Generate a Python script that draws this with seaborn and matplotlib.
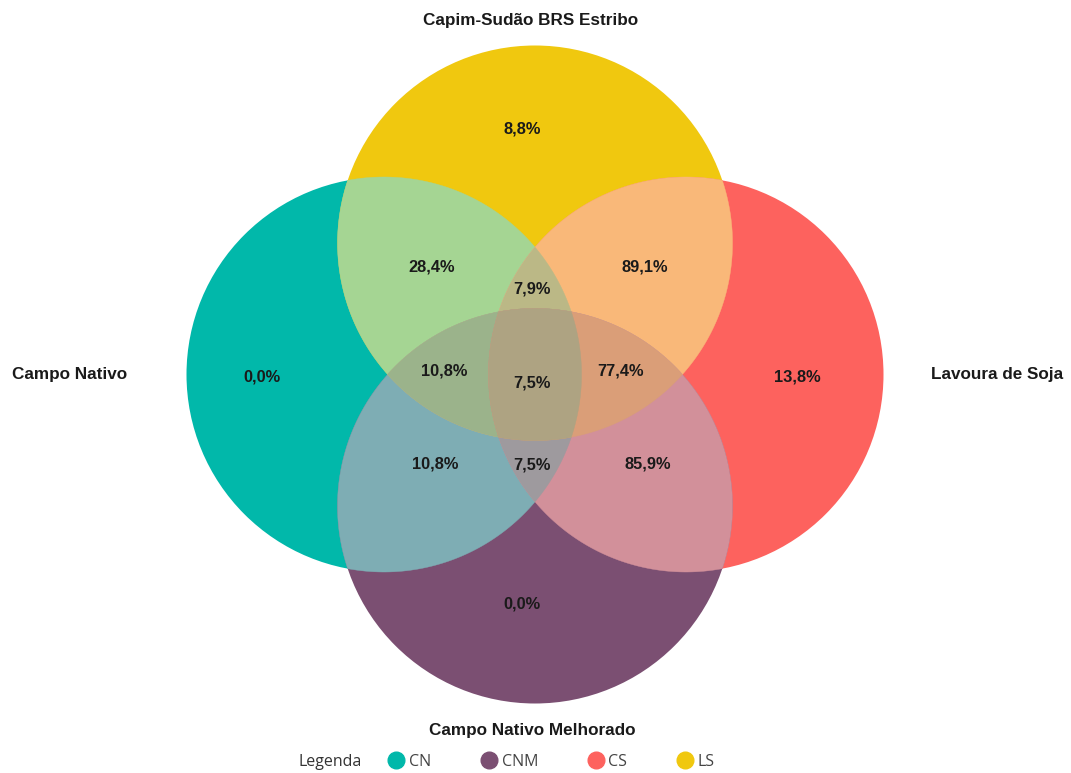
import numpy as np
import matplotlib
matplotlib.use("Agg")
import matplotlib.pyplot as plt
from matplotlib.patches import Polygon, Circle
from matplotlib.lines import Line2D
from matplotlib.colors import to_rgb
from itertools import combinations
import seaborn as sns

# ---------------- data ----------------
set_keys = ["L", "T", "R", "B"]
set_names = ["Campo Nativo", "Capim-Sudão BRS Estribo", "Lavoura de Soja", "Campo Nativo Melhorado"]
set_colors = ["#01B8AA", "#F0C80F", "#FD625E", "#7B4F72"]

region_keys = ["T", "LT", "TR", "LTR", "L", "LTB", "LTRB", "TRB", "R", "LB", "LRB", "RB", "B"]
region_values = [8.8, 28.4, 89.1, 7.9, 0.0, 10.8, 7.5, 77.4, 13.8, 10.8, 7.5, 85.9, 0.0]

legend_codes = ["CN", "CNM", "CS", "LS"]
legend_colors = ["#01B8AA", "#7B4F72", "#FD625E", "#F0C80F"]
legend_title = "Legenda"

# ---------------- layout ----------------
W, H = 1071, 773
CX, CY = 535.0, 374.5
DX, DY, RAD = 151.0, 131.5, 197.5
centers = {"L": (CX - DX, CY), "T": (CX, CY - DY), "R": (CX + DX, CY), "B": (CX, CY + DY)}
name_pos = {"L": (CX - 465, CY), "T": (CX - 4, CY - 354.5), "R": (CX + 462, CY), "B": (CX - 3, CY + 355.5)}
# small nudges of the value labels away from the exact region centroid (pixels)
label_nudge = {"T": (-13, -5), "LT": (11, 5), "TR": (-4, 5), "LTR": (-3, 2), "L": (-20, 2),
               "LTB": (-9, -3), "LTRB": (-3, 9), "TRB": (4, -3), "R": (9, 2), "LB": (14, -23),
               "LRB": (-3, 3), "RB": (-1, -23), "B": (-13, -11)}

sns.set_theme(style="white")
plt.rcParams["font.family"] = ["Liberation Sans", "DejaVu Sans"]

fig = plt.figure(figsize=(W / 100, H / 100), dpi=100)
ax = fig.add_axes([0, 0, 1, 1])
ax.set_xlim(0, W)
ax.set_ylim(H, 0)
ax.axis("off")

color_of = dict(zip(set_keys, set_colors))


def inside_all(px, py, keys):
    ok = np.ones_like(px, dtype=bool)
    for k in keys:
        cx, cy = centers[k]
        ok &= (px - cx) ** 2 + (py - cy) ** 2 <= RAD ** 2 + 1e-6
    return ok


def intersection_polygon(keys):
    pts = []
    th = np.linspace(0, 2 * np.pi, 1440, endpoint=False)
    for k in keys:
        cx, cy = centers[k]
        px = cx + RAD * np.cos(th)
        py = cy + RAD * np.sin(th)
        m = inside_all(px, py, keys)
        pts.append(np.column_stack([px[m], py[m]]))
    pts = np.vstack(pts)
    c = pts.mean(axis=0)
    ang = np.arctan2(pts[:, 1] - c[1], pts[:, 0] - c[0])
    return pts[np.argsort(ang)]


def blend(keys):
    if len(keys) == 1:
        return to_rgb(color_of[keys[0]])
    cols = [np.array(to_rgb(color_of[k])) for k in keys] + [np.ones(3)]
    return tuple(np.mean(cols, axis=0))


# single circles
for k in set_keys:
    ax.add_patch(Circle(centers[k], RAD, facecolor=color_of[k], edgecolor="none", zorder=1))

# overlaps, drawn by increasing size
for size in (2, 3, 4):
    for combo in combinations(set_keys, size):
        poly = intersection_polygon(list(combo))
        if len(poly) < 3:
            continue
        ax.add_patch(Polygon(poly, closed=True, facecolor=blend(list(combo)),
                             edgecolor=blend(list(combo)), lw=0.3, zorder=size))

# region labels at centroid of each exact region
gx, gy = np.meshgrid(np.arange(0, W, 1.0), np.arange(0, H, 1.0))
member = {k: (gx - centers[k][0]) ** 2 + (gy - centers[k][1]) ** 2 <= RAD ** 2 for k in set_keys}
for key, val in zip(region_keys, region_values):
    m = np.ones_like(gx, dtype=bool)
    for k in set_keys:
        m &= member[k] if k in key else ~member[k]
    nx, ny = label_nudge[key]
    x0, y0 = gx[m].mean() + nx, gy[m].mean() + ny
    ax.text(x0, y0, f"{val:.1f}%".replace(".", ","), ha="center", va="center",
            fontsize=11.8, fontweight="bold", color="#1a1a1a", zorder=10)

# set names
for k, name in zip(set_keys, set_names):
    x, y = name_pos[k]
    ax.text(x, y, name, ha="center", va="center", fontsize=12.3, fontweight="bold",
            color="#1a1a1a", zorder=10)

# legend
fig.text(298 / W, 1 - 762 / H, legend_title, ha="left", va="center", fontsize=11.5,
         color="#333333", family=["Open Sans", "DejaVu Sans"])
handles = [Line2D([], [], marker="o", linestyle="none", markersize=12,
                  markerfacecolor=c, markeredgecolor=c) for c in legend_colors]
leg = fig.legend(handles, legend_codes, ncol=4, loc="center left",
                 bbox_to_anchor=(374 / W, 1 - 762 / H), frameon=False,
                 handletextpad=0.3, columnspacing=3.1, handlelength=1.0,
                 prop={"family": ["Open Sans", "DejaVu Sans"], "size": 11.5})
for t in leg.get_texts():
    t.set_color("#444444")

fig.savefig("out.png", dpi=100, facecolor="white")
